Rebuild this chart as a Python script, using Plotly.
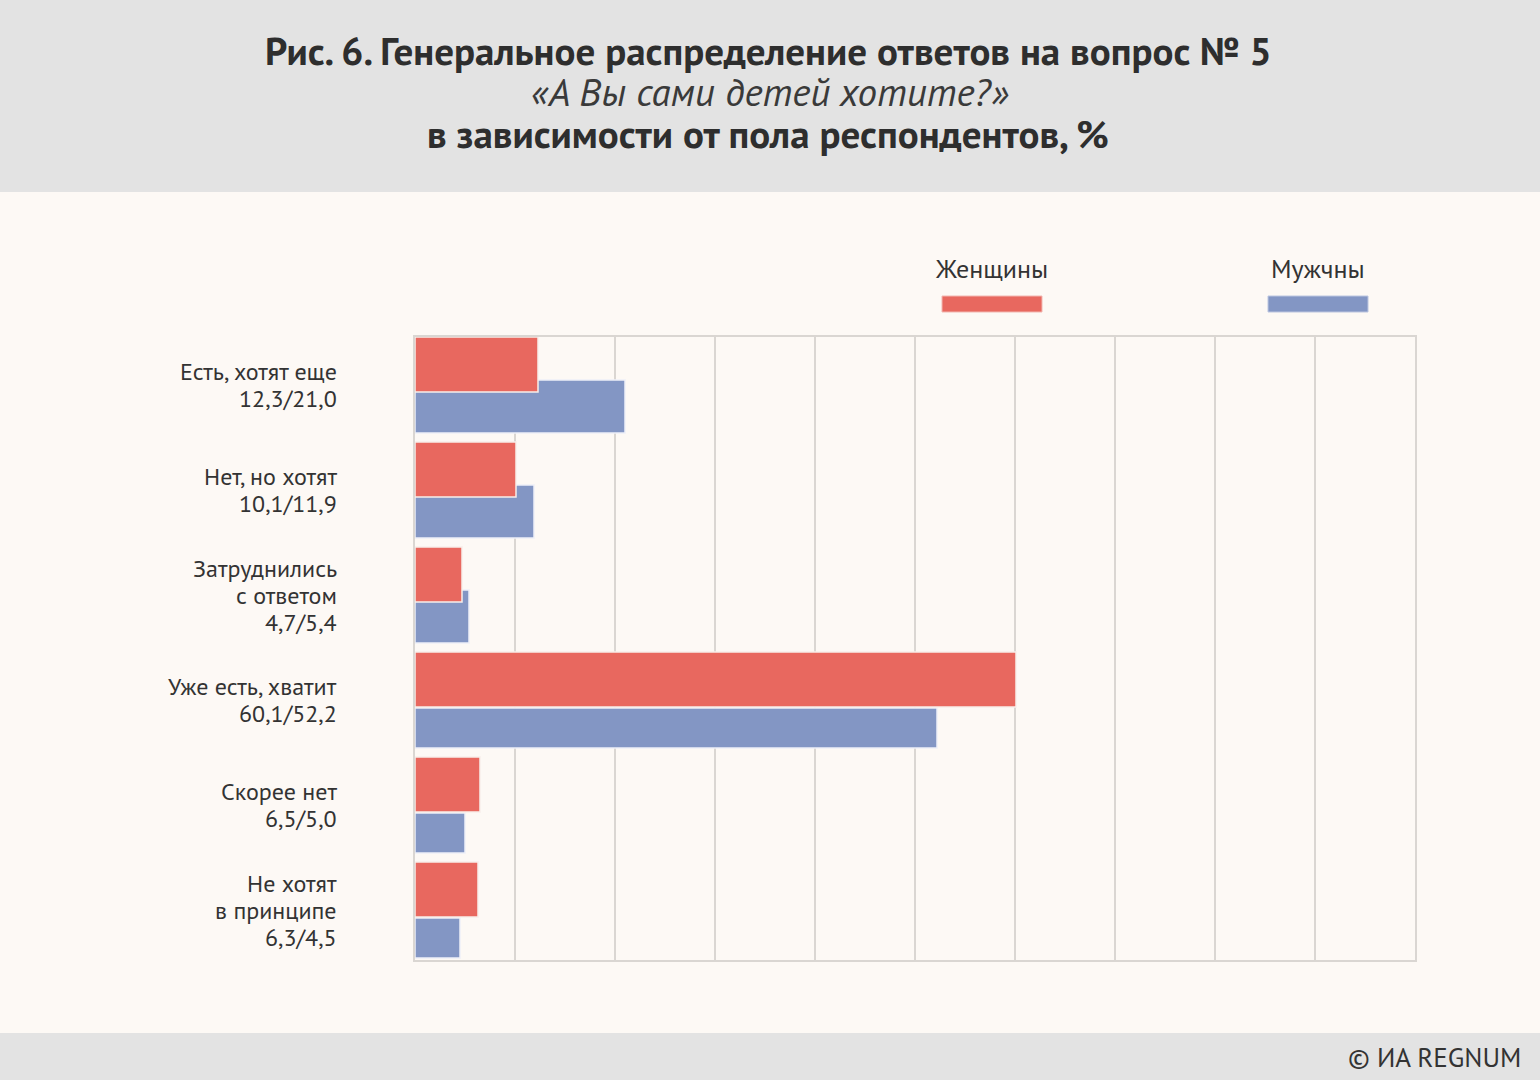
import plotly.graph_objects as go

# ---- data ----
categories = [
    "Есть, хотят еще<br>12,3/21,0",
    "Нет, но хотят<br>10,1/11,9",
    "Затруднились<br>с ответом<br>4,7/5,4",
    "Уже есть, хватит<br>60,1/52,2",
    "Скорее нет<br>6,5/5,0",
    "Не хотят<br>в принципе<br>6,3/4,5",
]
women = [12.3, 10.1, 4.7, 60.1, 6.5, 6.3]
men = [21.0, 11.9, 5.4, 52.2, 5.0, 4.5]
series_names = ["Женщины", "Мужчны"]

# ---- style ----
W_COLOR = "#E8685F"
M_COLOR = "#8396C4"
CREAM = "#FDF9F5"
GREY_BAND = "#E3E3E3"
GRID = "#DAD6D2"
TEXT = "#333333"
FONT = "PT Sans, Roboto, Noto Sans, sans-serif"
LABEL_SIZE = 24
LINE_STEP = 27

pos = list(range(len(categories)))
women_offset = [-0.457] * 6
women_width = [0.524] * 6
men_offset = [-0.048, -0.048, -0.048, 0.076, 0.076, 0.076]
men_width = [0.505, 0.505, 0.505, 0.381, 0.381, 0.381]

fig = go.Figure()
fig.add_trace(go.Bar(
    y=pos, x=men, orientation="h", name=series_names[1],
    marker=dict(color=M_COLOR, line=dict(color="#EEF0F7", width=1.5)),
    offset=men_offset, width=men_width, hoverinfo="skip", showlegend=False,
))
fig.add_trace(go.Bar(
    y=pos, x=women, orientation="h", name=series_names[0],
    marker=dict(color=W_COLOR, line=dict(color="#F7EEEA", width=1.5)),
    offset=women_offset, width=women_width, hoverinfo="skip", showlegend=False,
))

L, R, T, B = 415, 125, 337, 120
FW, FH = 1540, 1080
PW, PH = FW - L - R, FH - T - B


def px_to_py(y):
    return (FH - B - y) / PH


def px_to_px(x):
    return (x - L) / PW


shapes = [
    dict(type="rect", xref="paper", yref="paper", x0=px_to_px(0), x1=px_to_px(FW),
         y0=px_to_py(192), y1=px_to_py(0), fillcolor=GREY_BAND, line_width=0, layer="below"),
    dict(type="rect", xref="paper", yref="paper", x0=px_to_px(0), x1=px_to_px(FW),
         y0=px_to_py(FH), y1=px_to_py(1033), fillcolor=GREY_BAND, line_width=0, layer="below"),
    # legend swatches
    dict(type="rect", xref="paper", yref="paper", x0=px_to_px(942), x1=px_to_px(1042),
         y0=px_to_py(312), y1=px_to_py(296), fillcolor=W_COLOR, line=dict(color="#F2B7B1", width=1)),
    dict(type="rect", xref="paper", yref="paper", x0=px_to_px(1268), x1=px_to_px(1368),
         y0=px_to_py(312), y1=px_to_py(296), fillcolor=M_COLOR, line=dict(color="#BCC6E0", width=1)),
]

annotations = [
    dict(text="<b>Рис. 6. Генеральное распределение ответов на вопрос № 5</b>",
         xref="paper", yref="paper", x=px_to_px(768), y=px_to_py(50), showarrow=False,
         font=dict(family=FONT, size=39, color="#2E2E2E"), xanchor="center", yanchor="middle"),
    dict(text="<i>«А Вы сами детей хотите?»</i>",
         xref="paper", yref="paper", x=px_to_px(770), y=px_to_py(92), showarrow=False,
         font=dict(family=FONT, size=39, color="#3A3A3A"), xanchor="center", yanchor="middle"),
    dict(text="<b>в зависимости от пола респондентов, %</b>",
         xref="paper", yref="paper", x=px_to_px(768), y=px_to_py(133), showarrow=False,
         font=dict(family=FONT, size=39, color="#2E2E2E"), xanchor="center", yanchor="middle"),
    dict(text=series_names[0], xref="paper", yref="paper", x=px_to_px(991), y=px_to_py(269),
         showarrow=False, font=dict(family=FONT, size=26, color=TEXT), xanchor="center", yanchor="middle"),
    dict(text=series_names[1], xref="paper", yref="paper", x=px_to_px(1318), y=px_to_py(269),
         showarrow=False, font=dict(family=FONT, size=26, color=TEXT), xanchor="center", yanchor="middle"),
    dict(text="© ИА REGNUM", xref="paper", yref="paper", x=px_to_px(1523), y=px_to_py(1057),
         showarrow=False, font=dict(family=FONT, size=27, color=TEXT), xanchor="right", yanchor="middle"),
]

# category labels, one annotation per line, anchored to the category position
for p, label in zip(pos, categories):
    lines = label.split("<br>")
    n = len(lines)
    for k, line in enumerate(lines):
        shift = ((n - 1) / 2 - k) * LINE_STEP
        annotations.append(dict(
            text=line, xref="paper", yref="y", x=px_to_px(339), y=p, yshift=shift,
            showarrow=False, xanchor="right", yanchor="middle",
            font=dict(family=FONT, size=LABEL_SIZE, color=TEXT),
        ))

fig.update_layout(
    width=FW, height=FH,
    margin=dict(l=L, r=R, t=T, b=B, pad=0),
    paper_bgcolor=CREAM, plot_bgcolor=CREAM,
    barmode="overlay",
    showlegend=False,
    shapes=shapes,
    annotations=annotations,
    xaxis=dict(range=[0, 100], dtick=10, showgrid=True, gridcolor=GRID, gridwidth=1.5,
               showticklabels=False, zeroline=False, showline=True, linecolor=GRID, linewidth=2,
               mirror=True, ticks="", layer="below traces"),
    yaxis=dict(range=[5.476, -0.457], tickvals=pos, showticklabels=False, showgrid=False,
               zeroline=False, showline=True, linecolor=GRID, linewidth=2, mirror=True,
               ticks="", layer="below traces"),
    font=dict(family=FONT, color=TEXT),
)

fig.write_html("out.html", config={"displayModeBar": False},
               post_script="document.body.style.margin='0px';")
